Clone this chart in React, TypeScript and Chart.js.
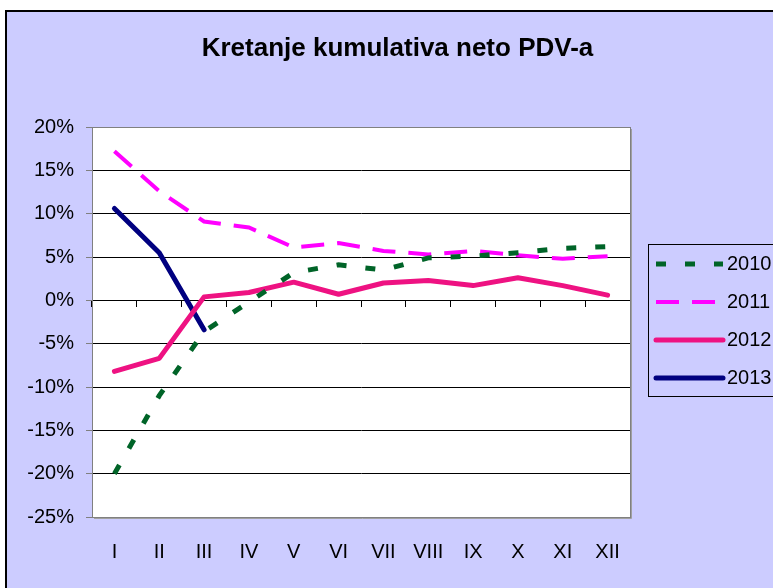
import React, { useEffect, useRef } from 'react';
import { Chart, registerables } from 'chart.js';

Chart.register(...registerables);

// ---- data ----
const months = ['I', 'II', 'III', 'IV', 'V', 'VI', 'VII', 'VIII', 'IX', 'X', 'XI', 'XII'];
const seriesNames = ['2010', '2011', '2012', '2013'];
const v2010 = [-20, -11, -3.6, -0.2, 3.2, 4.1, 3.5, 4.9, 5.1, 5.5, 6.0, 6.2];
const v2011 = [17.2, 12.6, 9.1, 8.4, 6.1, 6.6, 5.7, 5.3, 5.7, 5.2, 4.8, 5.1];
const v2012 = [-8.2, -6.7, 0.4, 0.9, 2.1, 0.7, 2.0, 2.3, 1.7, 2.6, 1.7, 0.6];
const v2013 = [10.6, 5.5, -3.4];
const yMin = -25;
const yMax = 20;
const yStep = 5;
const titleText = 'Kretanje kumulativa neto PDV-a';

const FONT = '"Liberation Sans", Arial, sans-serif';
const LAVENDER = '#CCCCFF';

const framePlugin = {
  id: 'frame',
  beforeDraw(chart: any) {
    const { ctx, width, height, chartArea: a } = chart;
    ctx.save();
    ctx.fillStyle = '#ffffff';
    ctx.fillRect(0, 0, width, height);
    ctx.fillStyle = '#000000';
    ctx.fillRect(5, 10, width, height);
    ctx.fillStyle = LAVENDER;
    ctx.fillRect(7, 12, width, height);
    ctx.fillStyle = '#ffffff';
    ctx.fillRect(a.left, a.top, a.right - a.left, a.bottom - a.top);
    ctx.restore();
  },
  beforeDatasetsDraw(chart: any) {
    const { ctx, chartArea: a } = chart;
    ctx.save();
    ctx.strokeStyle = '#808080';
    ctx.lineWidth = 1;
    ctx.strokeRect(a.left + 0.5, a.top + 0.5, a.right - a.left, a.bottom - a.top);
    ctx.strokeStyle = '#a0a0a0';
    ctx.beginPath();
    ctx.moveTo(a.right + 1.5, a.top + 2);
    ctx.lineTo(a.right + 1.5, a.bottom + 1.5);
    ctx.lineTo(a.left + 2, a.bottom + 1.5);
    ctx.stroke();
    ctx.restore();
  },
};

const boxLegendPlugin = {
  id: 'boxLegend',
  afterDraw(chart: any) {
    const { ctx, chartArea: a } = chart;
    const x = a.right + 18;
    const y = a.top + 117;
    const w = 170;
    const h = 152;
    ctx.save();
    ctx.fillStyle = LAVENDER;
    ctx.fillRect(x, y, w, h);
    ctx.strokeStyle = '#000000';
    ctx.lineWidth = 1;
    ctx.strokeRect(x + 0.5, y + 0.5, w, h);
    chart.data.datasets.forEach((ds: any, i: number) => {
      const cy = y + 20 + i * 38;
      ctx.beginPath();
      ctx.setLineDash(ds.borderDash || []);
      ctx.lineCap = ds.borderCapStyle || 'butt';
      ctx.strokeStyle = ds.borderColor;
      ctx.lineWidth = ds.borderWidth;
      ctx.moveTo(x + 8, cy);
      ctx.lineTo(x + 75, cy);
      ctx.stroke();
      ctx.setLineDash([]);
      ctx.fillStyle = '#000000';
      ctx.font = `20px ${FONT}`;
      ctx.textAlign = 'left';
      ctx.textBaseline = 'middle';
      ctx.fillText(ds.label, x + 79, cy);
    });
    ctx.restore();
  },
};

export default function App() {
  const canvasRef = useRef<HTMLCanvasElement | null>(null);

  useEffect(() => {
    if (!canvasRef.current) return;
    const chart = new Chart(canvasRef.current, {
      type: 'line',
      data: {
        labels: months,
        datasets: [
          {
            label: seriesNames[0],
            data: v2010,
            borderColor: '#006428',
            borderWidth: 5,
            borderDash: [10, 19],
            borderCapStyle: 'butt',
            pointRadius: 0,
            tension: 0,
            fill: false,
          },
          {
            label: seriesNames[1],
            data: v2011,
            borderColor: '#FF00FF',
            borderWidth: 4,
            borderDash: [23, 13],
            borderCapStyle: 'butt',
            pointRadius: 0,
            tension: 0,
            fill: false,
          },
          {
            label: seriesNames[2],
            data: v2012,
            borderColor: '#EE1282',
            borderWidth: 5,
            borderCapStyle: 'round',
            borderJoinStyle: 'round',
            pointRadius: 0,
            tension: 0,
            fill: false,
          },
          {
            label: seriesNames[3],
            data: v2013,
            borderColor: '#000080',
            borderWidth: 5,
            borderCapStyle: 'round',
            borderJoinStyle: 'round',
            pointRadius: 0,
            tension: 0,
            fill: false,
          },
        ],
      },
      options: {
        responsive: false,
        animation: false,
        devicePixelRatio: 1,
        layout: { padding: { left: 22, right: 0, top: 0, bottom: 0 } },
        plugins: {
          legend: { display: false },
          tooltip: { enabled: false },
          title: {
            display: true,
            text: titleText,
            color: '#000000',
            font: { family: FONT, size: 26, weight: 'bold', lineHeight: 1.2 },
            padding: { top: 33, bottom: 62.8 },
            fullSize: true,
          },
        },
        scales: {
          x: {
            type: 'category',
            position: { y: 0 } as any,
            offset: true,
            grid: {
              display: true,
              drawOnChartArea: false,
              drawTicks: true,
              tickLength: 6,
              color: '#000000',
              offset: true,
            },
            border: { display: true, color: '#000000', width: 1 },
            ticks: { display: false },
          },
          x2: {
            type: 'category',
            labels: months,
            position: 'bottom',
            offset: true,
            grid: { display: false, drawTicks: false },
            border: { display: false },
            ticks: {
              color: '#000000',
              font: { family: FONT, size: 20 },
              padding: 23,
              autoSkip: false,
              maxRotation: 0,
            },
            afterFit: (s: any) => {
              s.height = 71;
            },
          },
          y: {
            type: 'linear',
            position: 'left',
            min: yMin,
            max: yMax,
            ticks: {
              stepSize: yStep,
              callback: (v: any) => `${v}%`,
              color: '#000000',
              font: { family: FONT, size: 20 },
              padding: 12,
            },
            grid: {
              color: (c: any) =>
                c.tick && (c.tick.value === yMax || c.tick.value === yMin) ? '#808080' : '#000000',
              tickColor: '#808080',
              tickLength: 6,
              drawTicks: true,
              lineWidth: 1,
            },
            border: { display: true, color: '#808080', width: 1 },
            afterFit: (s: any) => {
              s.width = 70;
            },
          },
          yr: {
            type: 'linear',
            position: 'right',
            display: true,
            grid: { display: false, drawTicks: false },
            border: { display: false },
            ticks: { display: false },
            afterFit: (s: any) => {
              s.width = 143;
            },
          },
        },
      } as any,
      plugins: [framePlugin, boxLegendPlugin],
    });
    return () => chart.destroy();
  }, []);

  return (
    <div style={{ position: 'absolute', left: 0, top: 0, width: 773, height: 588 }}>
      <canvas ref={canvasRef} width={773} height={588} />
    </div>
  );
}
